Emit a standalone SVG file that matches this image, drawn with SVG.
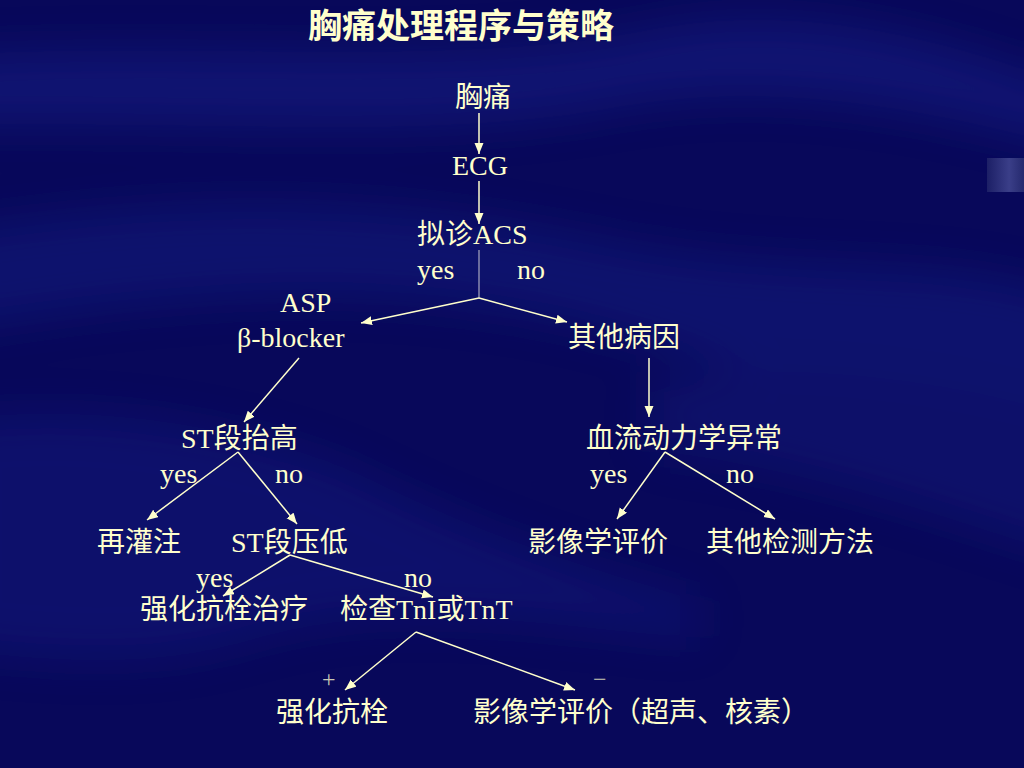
<svg xmlns="http://www.w3.org/2000/svg" width="1024" height="768" viewBox="0 0 1024 768">
<defs>
<style>
.t{font-family:"Liberation Serif","Noto Sans CJK SC",serif;font-size:28px;fill:#ffffcc}
.s{font-family:"Liberation Serif","Noto Sans CJK SC",serif;font-size:24px;fill:#c8c8b4}
.ti{font-family:"Noto Sans CJK SC","Liberation Sans",sans-serif;font-size:34px;font-weight:bold;fill:#ffffcc}
.c{stroke:#ffffcc;stroke-width:1.5;fill:none;marker-end:url(#ah)}
.g{stroke:#a8a8c0;stroke-width:1.2;fill:none}
</style>
<marker id="ah" markerUnits="userSpaceOnUse" markerWidth="12" markerHeight="10" refX="11" refY="4.5" orient="auto">
<path d="M0,0 L11,4.5 L0,9 z" fill="#ffffcc"/>
</marker>
<filter id="bl" x="-20%" y="-50%" width="140%" height="200%"><feGaussianBlur stdDeviation="22"/></filter>
<linearGradient id="tab" x1="0" y1="0" x2="1" y2="0">
<stop offset="0" stop-color="#1c1f66"/><stop offset="0.6" stop-color="#3a3e88"/><stop offset="1" stop-color="#25296e"/>
</linearGradient>
</defs>
<rect width="1024" height="768" fill="#08085a"/>
<g filter="url(#bl)" opacity="0.4">
<path d="M-50,55 C200,40 450,70 650,30 C800,0 950,40 1080,90 L1080,150 C900,100 750,80 600,110 C420,140 200,120 -50,125 Z" fill="#1c2896"/>
<path d="M-50,230 C150,200 350,190 600,240 C800,280 950,250 1080,300 L1080,470 C900,420 780,380 600,330 C400,280 200,290 -50,330 Z" fill="#16208a"/>
<path d="M-50,420 C100,400 250,430 350,470 C450,520 550,560 700,600 L700,640 C520,620 380,600 250,640 C150,670 50,660 -50,650 Z" fill="#141e86"/>
<path d="M650,380 C800,360 950,380 1080,420 L1080,560 C950,520 820,470 650,450 Z" fill="#121a80"/>
</g>
<rect x="987" y="158" width="37" height="34" fill="url(#tab)"/>

<g id="title"><text class="ti" x="308" y="38">胸痛处理程序与策略</text></g>

<g id="connectors">
<line class="c" x1="479" y1="113" x2="479" y2="154"/>
<line class="c" x1="479" y1="181" x2="479" y2="224"/>
<line class="g" x1="479" y1="250" x2="479" y2="298"/>
<line class="c" x1="479" y1="298" x2="361" y2="323"/>
<line class="c" x1="479" y1="298" x2="567" y2="322"/>
<line class="c" x1="299" y1="358" x2="244" y2="422"/>
<line class="c" x1="649" y1="358" x2="649" y2="417"/>
<line class="c" x1="238" y1="452" x2="147" y2="520"/>
<line class="c" x1="238" y1="452" x2="297" y2="524"/>
<line class="c" x1="665" y1="452" x2="617" y2="519"/>
<line class="c" x1="665" y1="452" x2="775" y2="519"/>
<line class="c" x1="290" y1="555" x2="223" y2="596"/>
<line class="c" x1="290" y1="555" x2="433" y2="597"/>
<line class="c" x1="416" y1="632" x2="345" y2="690"/>
<line class="c" x1="416" y1="632" x2="575" y2="690"/>
</g>

<g id="n-chestpain"><text class="t" x="455" y="107">胸痛</text></g>
<g id="n-ecg"><text class="t" x="452" y="175">ECG</text></g>
<g id="n-acs"><text class="t" x="417" y="244">拟诊ACS</text></g>
<g id="l-acs-yes"><text class="t" x="417" y="279">yes</text></g>
<g id="l-acs-no"><text class="t" x="517" y="279">no</text></g>
<g id="n-asp"><text class="t" x="280" y="312">ASP</text><text class="t" x="237" y="347">β-blocker</text></g>
<g id="n-other"><text class="t" x="568" y="347">其他病因</text></g>
<g id="n-stup"><text class="t" x="181" y="448">ST段抬高</text></g>
<g id="n-hemo"><text class="t" x="586" y="448">血流动力学异常</text></g>
<g id="l-stup-yes"><text class="t" x="160" y="483">yes</text></g>
<g id="l-stup-no"><text class="t" x="275" y="483">no</text></g>
<g id="l-hemo-yes"><text class="t" x="590" y="483">yes</text></g>
<g id="l-hemo-no"><text class="t" x="726" y="483">no</text></g>
<g id="n-reperf"><text class="t" x="97" y="552">再灌注</text></g>
<g id="n-stdown"><text class="t" x="231" y="552">ST段压低</text></g>
<g id="n-imaging"><text class="t" x="528" y="552">影像学评价</text></g>
<g id="n-othertest"><text class="t" x="706" y="552">其他检测方法</text></g>
<g id="l-stdown-yes"><text class="t" x="196" y="587">yes</text></g>
<g id="l-stdown-no"><text class="t" x="404" y="587">no</text></g>
<g id="n-antithrombo"><text class="t" x="140" y="619">强化抗栓治疗</text></g>
<g id="n-tni"><text class="t" x="340" y="619">检查TnI或TnT</text></g>
<g id="l-plus"><text class="s" x="322" y="687">+</text></g>
<g id="l-minus"><text class="s" x="593" y="687">−</text></g>
<g id="n-anti2"><text class="t" x="276" y="722">强化抗栓</text></g>
<g id="n-imaging2"><text class="t" x="473" y="722">影像学评价（超声、核素）</text></g>
</svg>
